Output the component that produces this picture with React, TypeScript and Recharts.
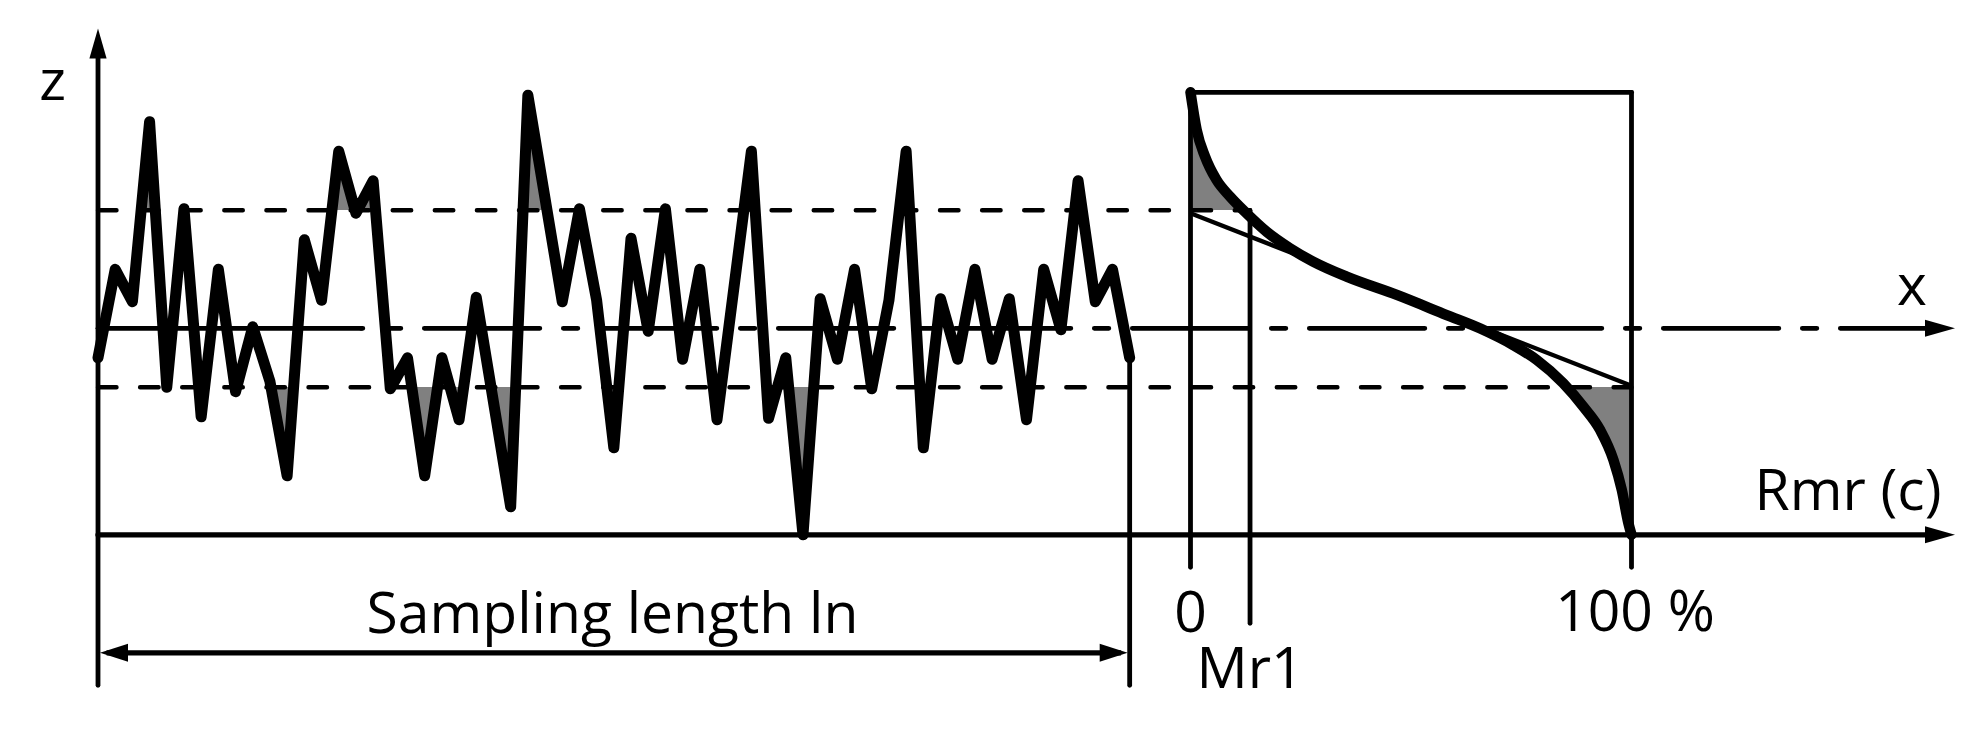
import React from "react";
import {
  ComposedChart,
  Line,
  Area,
  Scatter,
  XAxis,
  YAxis,
  ReferenceLine,
} from "recharts";

// roughness profile along the sampling length: sample position and height z
const profileX = [
  0, 1, 2, 3, 4, 5, 6, 7, 8, 9, 10, 11, 12, 13, 14, 15, 16, 17, 18, 19, 20, 21,
  22, 24, 25, 27, 28, 29, 30, 31, 32, 33, 34, 35, 36, 38, 39, 40, 41, 42, 43,
  44, 45, 46, 47, 48, 49, 50, 51, 52, 53, 54, 55, 56, 57, 58, 59, 60,
];
const profileZ = [
  -1, 2, 0.9, 7, -2, 4.05, -3, 2, -2.15, 0.05, -1.8, -5, 3, 0.95, 6, 3.9, 5,
  -2.05, -1, -5, -1, -3.1, 1.05, -6.05, 7.9, 0.9, 4.05, 0.95, -4.05, 3.05, -0.1,
  4.05, -1.05, 2, -3.1, 6, -3.05, -1, -7, 1, -1.05, 2, -2.05, 0.95, 6, -4.05, 1,
  -1.05, 2, -1.05, 1, -3.1, 2, -0.05, 5, 0.9, 2, -1,
];

// material ratio curve (Abbott-Firestone): Rmr(c) in % and level z
const ratioPct = [
  0, 1.4, 3.3, 5.9, 9, 12.7, 17.3, 22.6, 27.8, 35.4, 46.8, 58.1, 65.6, 73.2,
  78.5, 84.5, 89.1, 92.9, 95.9, 97.8, 99.3, 100,
];
const ratioZ = [
  8, 6.72, 5.82, 5.03, 4.46, 3.9, 3.27, 2.71, 2.26, 1.75, 1.13, 0.45, 0, -0.57,
  -1.07, -1.86, -2.66, -3.45, -4.46, -5.48, -6.61, -7,
];

// equivalent straight line through the curve
const eqPct = [0, 100];
const eqZ = [3.9, -1.95];

// section levels and ratio marks
const cUpper = 4;
const cLower = -2;
const zTopBox = 8;
const zBottom = -7;
const mr1 = 13.5;
const lnLength = 60;

const tickLabels = { zero: "0", full: "100 %", mr1: "Mr1" };

// ---- layout ----
const W = 1987;
const H = 747;
const PLOT_L = 98;
const PLOT_R = 1955;
const X_END = 108;
const PX_P = (PLOT_R - PLOT_L) / X_END;
const BOX_L = 1190.5;
const BOX_R = 1631.5;
const PX_R = (BOX_R - BOX_L) / 100;
const ratioDomain = [-(BOX_L - PLOT_L) / PX_R, (PLOT_R - BOX_L) / PX_R];
const ratioToP = (pct: number) => (BOX_L + pct * PX_R - PLOT_L) / PX_P;

const ZERO_Y = 328.3;
const PX_Z = 29.5;
const Z_MAX = 10.2;
const Z_MIN = -12.2;
const marginTop = ZERO_Y - Z_MAX * PX_Z;
const marginBottom = H - (ZERO_Y - Z_MIN * PX_Z);

const Z_ARROW = 10.16;
const Z_FOOT = -12.1;
const Z_DIM = -11;
const MEAN_SOLID_END = 15.3;

const profile = profileX.map((x, i) => ({ x, z: profileZ[i] }));
const ratioCurve = ratioPct.map((r, i) => ({ r, z: ratioZ[i] }));
const eqLine = eqPct.map((r, i) => ({ r, z: eqZ[i] }));

// offsets of the section levels inside the fill's bounding box
function cutStops(zs: number[], base: number) {
  const top = Math.max(...zs, base);
  const bot = Math.min(...zs, base);
  return {
    up: (top - cUpper) / (top - bot),
    low: (top - cLower) / (top - bot),
  };
}
const profStops = cutStops(profileZ, 0);
const curveBase = (cUpper + cLower) / 2;
const curveStops = cutStops(ratioZ, curveBase);

const GRAY = "#808080";
const FONT = "'Open Sans', sans-serif";

const arrowRight = (p: any) => (
  <path
    d={`M${p.cx},${p.cy}L${p.cx - 30},${p.cy - 8.5}L${p.cx - 30},${p.cy + 8.5}Z`}
    fill="#000"
  />
);
const arrowUp = (p: any) => (
  <path
    d={`M${p.cx},${p.cy}L${p.cx - 8.6},${p.cy + 30}L${p.cx + 8.6},${p.cy + 30}Z`}
    fill="#000"
  />
);
const dimLeft = (p: any) => (
  <path
    d={`M${p.cx + 2},${p.cy}L${p.cx + 30},${p.cy - 9}L${p.cx + 30},${p.cy + 9}Z`}
    fill="#000"
  />
);
const dimRight = (p: any) => (
  <path
    d={`M${p.cx - 2},${p.cy}L${p.cx - 30},${p.cy - 9}L${p.cx - 30},${p.cy + 9}Z`}
    fill="#000"
  />
);

function Gradient({ id, stops }: { id: string; stops: { up: number; low: number } }) {
  return (
    <linearGradient id={id} x1="0" y1="0" x2="0" y2="1">
      <stop offset={0} stopColor={GRAY} stopOpacity={1} />
      <stop offset={stops.up} stopColor={GRAY} stopOpacity={1} />
      <stop offset={stops.up} stopColor={GRAY} stopOpacity={0} />
      <stop offset={stops.low} stopColor={GRAY} stopOpacity={0} />
      <stop offset={stops.low} stopColor={GRAY} stopOpacity={1} />
      <stop offset={1} stopColor={GRAY} stopOpacity={1} />
    </linearGradient>
  );
}

const thin = { stroke: "#000", strokeWidth: 4.8, strokeLinecap: "round" as const };
const dashed = {
  stroke: "#000",
  strokeWidth: 4.4,
  strokeLinecap: "round" as const,
  strokeDasharray: "18.5 23.6",
};

export default function App() {
  const lastZ = profileZ[profileZ.length - 1];
  return (
    <div style={{ position: "absolute", left: 0, top: 0, width: W, height: H, background: "#fff" }}>
      <ComposedChart
        width={W}
        height={H}
        margin={{ top: marginTop, right: W - PLOT_R, bottom: marginBottom, left: PLOT_L }}
      >
        <defs>
          <Gradient id="profCut" stops={profStops} />
          <Gradient id="curveCut" stops={curveStops} />
        </defs>
        <XAxis xAxisId="p" dataKey="x" type="number" domain={[0, X_END]} hide />
        <XAxis xAxisId="r" dataKey="r" type="number" domain={ratioDomain} hide />
        <YAxis type="number" domain={[Z_MIN, Z_MAX]} hide />

        <Area
          xAxisId="p"
          data={profile}
          dataKey="z"
          type="linear"
          baseValue={0}
          stroke="none"
          fill="url(#profCut)"
          fillOpacity={1}
          isAnimationActive={false}
        />
        <Area
          xAxisId="r"
          data={ratioCurve}
          dataKey="z"
          type="monotone"
          baseValue={curveBase}
          stroke="none"
          fill="url(#curveCut)"
          fillOpacity={1}
          isAnimationActive={false}
        />

        {/* z axis and end of sampling length */}
        <ReferenceLine xAxisId="p" ifOverflow="visible" segment={[{ x: 0, y: Z_FOOT }, { x: 0, y: Z_ARROW - 0.6 }]} {...thin} />
        <ReferenceLine xAxisId="p" ifOverflow="visible" segment={[{ x: lnLength, y: lastZ }, { x: lnLength, y: Z_FOOT }]} {...thin} />

        {/* section levels */}
        <ReferenceLine xAxisId="p" ifOverflow="visible" segment={[{ x: 0, y: cUpper }, { x: ratioToP(mr1), y: cUpper }]} {...dashed} />
        <ReferenceLine xAxisId="p" ifOverflow="visible" segment={[{ x: 0, y: cLower }, { x: ratioToP(100), y: cLower }]} {...dashed} />

        {/* mean line (x axis) */}
        <ReferenceLine xAxisId="p" ifOverflow="visible" segment={[{ x: 0, y: 0 }, { x: MEAN_SOLID_END, y: 0 }]} {...thin} />
        <ReferenceLine
          xAxisId="p"
          ifOverflow="visible"
          segment={[{ x: MEAN_SOLID_END, y: 0 }, { x: X_END - 1, y: 0 }]}
          {...thin}
          strokeDasharray="115.5 23.5 14.5 23.5"
          strokeDashoffset={113.75}
        />
        {/* Rmr(c) axis */}
        <ReferenceLine xAxisId="p" ifOverflow="visible" segment={[{ x: 0, y: zBottom }, { x: X_END - 1, y: zBottom }]} {...thin} strokeWidth={5.3} />

        {/* sampling length dimension */}
        <ReferenceLine xAxisId="p" ifOverflow="visible" segment={[{ x: 0.5, y: Z_DIM }, { x: lnLength - 0.5, y: Z_DIM }]} {...thin} strokeWidth={5.3} strokeLinecap="butt" />

        {/* material ratio frame */}
        <ReferenceLine xAxisId="r" ifOverflow="visible" segment={[{ x: 0, y: zTopBox }, { x: 100, y: zTopBox }]} {...thin} />
        <ReferenceLine xAxisId="r" ifOverflow="visible" segment={[{ x: 0, y: zTopBox }, { x: 0, y: -8.1 }]} {...thin} />
        <ReferenceLine xAxisId="r" ifOverflow="visible" segment={[{ x: 100, y: zTopBox }, { x: 100, y: -8.1 }]} {...thin} />
        <ReferenceLine xAxisId="r" ifOverflow="visible" segment={[{ x: mr1, y: cUpper }, { x: mr1, y: -10 }]} {...thin} />

        <Line
          xAxisId="r"
          data={eqLine}
          dataKey="z"
          type="linear"
          stroke="#000"
          strokeWidth={4.4}
          dot={false}
          activeDot={false}
          isAnimationActive={false}
        />
        <Line
          xAxisId="r"
          data={ratioCurve}
          dataKey="z"
          type="monotone"
          stroke="#000"
          strokeWidth={10.5}
          strokeLinecap="round"
          dot={false}
          activeDot={false}
          isAnimationActive={false}
        />
        <Line
          xAxisId="p"
          data={profile}
          dataKey="z"
          type="linear"
          stroke="#000"
          strokeWidth={11}
          strokeLinejoin="round"
          strokeLinecap="round"
          dot={false}
          activeDot={false}
          isAnimationActive={false}
        />

        <Scatter xAxisId="p" data={[{ x: X_END, z: 0 }, { x: X_END, z: zBottom }]} dataKey="z" shape={arrowRight} isAnimationActive={false} />
        <Scatter xAxisId="p" data={[{ x: 0, z: Z_ARROW }]} dataKey="z" shape={arrowUp} isAnimationActive={false} />
        <Scatter xAxisId="p" data={[{ x: 0, z: Z_DIM }]} dataKey="z" shape={dimLeft} isAnimationActive={false} />
        <Scatter xAxisId="p" data={[{ x: lnLength, z: Z_DIM }]} dataKey="z" shape={dimRight} isAnimationActive={false} />

        <g fontFamily={FONT} fontSize={57} fill="#000" textAnchor="middle">
          <text x={52.5} y={100}>z</text>
          <text x={1912} y={305}>x</text>
          <text x={1848} y={510}>Rmr (c)</text>
          <text x={1190.6} y={632}>{tickLabels.zero}</text>
          <text x={1635} y={631}>{tickLabels.full}</text>
          <text x={1250} y={688}>{tickLabels.mr1}</text>
          <text x={612.5} y={633}>Sampling length ln</text>
        </g>
      </ComposedChart>
    </div>
  );
}
